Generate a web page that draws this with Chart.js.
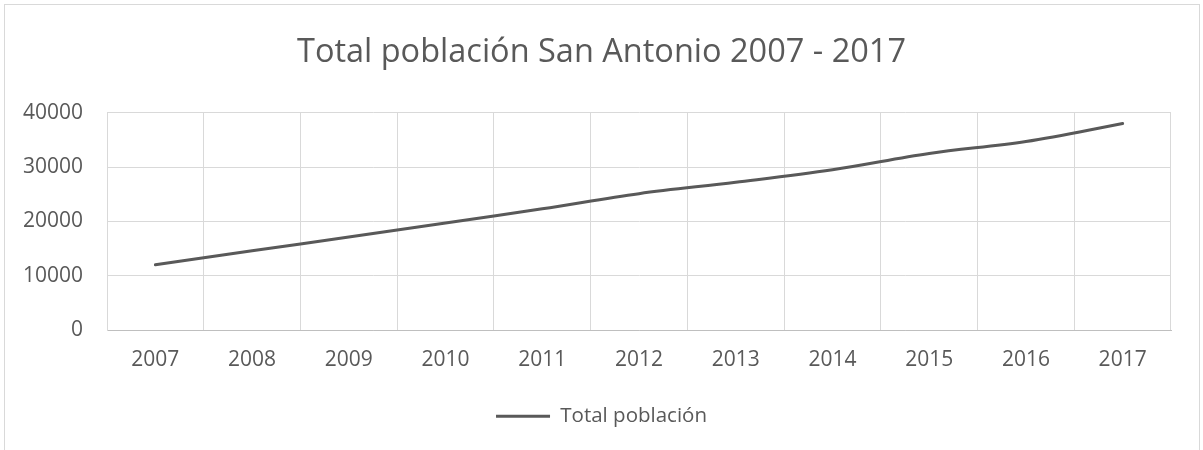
<!DOCTYPE html>
<html><head><meta charset="utf-8">
<script src="https://cdn.jsdelivr.net/npm/chart.js@4"></script>
<style>
html,body{margin:0;padding:0;background:#fff;overflow:hidden}
#wrap{position:relative;width:1203px;height:450px}
#frame{position:absolute;left:4px;top:4px;width:1196px;height:460px;border:1px solid #d9d9d9;box-sizing:border-box}
canvas{position:absolute;left:0;top:0}
</style></head><body>
<div id="wrap"><div id="frame"></div><canvas id="c" width="1203" height="450"></canvas></div>
<script>
const chartTitle = 'Total población San Antonio 2007 - 2017';
const seriesName = 'Total población';
const years = ['2007','2008','2009','2010','2011','2012','2013','2014','2015','2016','2017'];
const population = [12000, 14600, 17100, 19700, 22300, 25100, 27200, 29500, 32500, 34700, 38000];
const yMin = 0, yMax = 40000, yStep = 10000;

const textColor = '#595959';
const fontFamily = '"Open Sans", "Noto Sans", sans-serif';

new Chart(document.getElementById('c'), {
  type: 'line',
  data: {
    labels: years,
    datasets: [{
      label: seriesName,
      data: population,
      yAxisID: 'y',
      borderColor: '#595959',
      backgroundColor: '#595959',
      borderWidth: 3,
      borderCapStyle: 'round',
      borderJoinStyle: 'round',
      pointRadius: 0,
      pointHoverRadius: 0,
      tension: 0.35,
      fill: false
    }]
  },
  options: {
    responsive: false,
    animation: false,
    devicePixelRatio: 1,
    layout: { padding: { left: 0, right: 0, top: 0, bottom: 13.5 } },
    plugins: {
      tooltip: { enabled: false },
      title: {
        display: true,
        text: chartTitle,
        color: textColor,
        font: { family: fontFamily, size: 32.5, weight: 'normal' },
        padding: { top: 33, bottom: 40.7 }
      },
      legend: {
        display: true,
        position: 'bottom',
        labels: {
          color: textColor,
          font: { family: fontFamily, size: 20.5 },
          usePointStyle: true,
          pointStyle: 'line',
          pointStyleWidth: 54,
          padding: 20
        }
      }
    },
    scales: {
      x: {
        type: 'category',
        offset: true,
        grid: { offset: true, color: '#d9d9d9', lineWidth: 1, drawTicks: false },
        border: { color: '#bfbfbf', width: 1 },
        ticks: { color: textColor, font: { family: fontFamily, size: 21 }, padding: 17, maxRotation: 0 },
        afterFit: s => { s.height = 56; }
      },
      y: {
        position: 'left',
        min: yMin, max: yMax,
        grid: { color: '#d9d9d9', lineWidth: 1, drawTicks: false },
        border: { color: '#d9d9d9', width: 1 },
        ticks: { stepSize: yStep, color: textColor, font: { family: fontFamily, size: 21 }, padding: 24,
                 callback: v => String(v) },
        afterFit: s => { s.width = 107; }
      },
      yRight: {
        position: 'right',
        display: true,
        min: yMin, max: yMax,
        grid: { display: false, drawTicks: false },
        border: { display: false },
        ticks: { display: false },
        afterFit: s => { s.width = 32; }
      }
    }
  }
});
</script>
</body></html>
